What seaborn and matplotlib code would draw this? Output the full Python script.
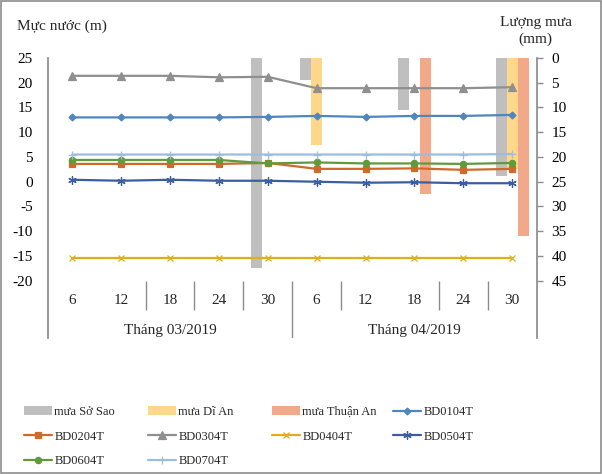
import matplotlib
matplotlib.use('Agg')

import matplotlib.pyplot as plt
from matplotlib.patches import Rectangle
import numpy as np
import pandas as pd
import seaborn as sns

sns.set_theme(style="white")
plt.rcParams['font.family'] = ['Liberation Serif', 'DejaVu Serif']
plt.rcParams['axes.unicode_minus'] = False

# data

months = ["Tháng 03/2019", "Tháng 04/2019"]
month_of_day = [0, 0, 0, 0, 0, 1, 1, 1, 1, 1]
days = ["6", "12", "18", "24", "30", "6", "12", "18", "24", "30"]

rain_names = ["mưa Sở Sao", "mưa Dĩ An", "mưa Thuận An"]
rain_sosao = [0, 0, 0, 0, 42.4, 4.4, 0, 10.6, 0, 23.9]
rain_dian = [0, 0, 0, 0, 0, 17.6, 0, 0, 0, 22.4]
rain_thuanan = [0, 0, 0, 0, 0, 0, 0, 27.4, 0, 35.9]

well_names = ["BD0104T", "BD0204T", "BD0304T", "BD0404T", "BD0504T", "BD0604T", "BD0704T"]
bd0104 = [13.0, 13.0, 13.0, 13.0, 13.1, 13.3, 13.1, 13.3, 13.3, 13.5]
bd0204 = [3.6, 3.6, 3.6, 3.6, 3.8, 2.6, 2.6, 2.7, 2.4, 2.6]
bd0304 = [21.4, 21.4, 21.4, 21.1, 21.2, 18.9, 18.9, 18.9, 18.9, 19.1]
bd0404 = [-15.5, -15.5, -15.5, -15.5, -15.5, -15.5, -15.5, -15.5, -15.5, -15.5]
bd0504 = [0.4, 0.2, 0.4, 0.2, 0.2, 0.0, -0.2, -0.1, -0.3, -0.3]
bd0604 = [4.4, 4.4, 4.4, 4.4, 3.7, 3.9, 3.7, 3.7, 3.6, 3.8]
bd0704 = [5.5, 5.5, 5.5, 5.5, 5.5, 5.5, 5.5, 5.5, 5.5, 5.6]

# styles

rain_colors = ["#BFBFBF", "#FFD78A", "#F2A98A"]
well_colors = ["#4F86C0", "#D06A2A", "#8F8F8F", "#E1AD1D", "#3B5E9E", "#5F9A3C", "#9DBDE0"]
well_markers = ["D", "s", "^", "x", (6, 2, 0), "o", "+"]
well_msize = [3.5, 4.5, 5.5, 5, 6, 4.5, 6]
grey = "#8C8C8C"

# tables

day_key = [f"{m}-{d}" for m, d in zip(month_of_day, days)]
rain = pd.DataFrame({"ngay": day_key, rain_names[0]: rain_sosao,
                     rain_names[1]: rain_dian, rain_names[2]: rain_thuanan})
rain_long = rain.melt(id_vars="ngay", var_name="tram", value_name="mm")

level = pd.DataFrame({"x": np.arange(len(days)), "BD0104T": bd0104, "BD0204T": bd0204,
                      "BD0304T": bd0304, "BD0404T": bd0404, "BD0504T": bd0504,
                      "BD0604T": bd0604, "BD0704T": bd0704})

# figure

fig = plt.figure(figsize=(6.02, 4.74), dpi=100)
ax = fig.add_axes([47.7 / 602, 1 - 338 / 474, 489 / 602, 280 / 474])
ax2 = ax.twinx()

sns.barplot(data=rain_long, x="ngay", y="mm", hue="tram", order=day_key,
            hue_order=rain_names, palette=rain_colors, width=0.675,
            saturation=1, errorbar=None, linewidth=0, ax=ax2)

for name, color, marker, ms in zip(well_names, well_colors, well_markers, well_msize):
    sns.lineplot(data=level, x="x", y=name, color=color, marker=marker,
                 markersize=ms, markeredgecolor=color, markerfacecolor=color,
                 markeredgewidth=0.9, lw=1.6, label=name, ax=ax)

ax.set_zorder(ax2.get_zorder() + 1)
ax.patch.set_visible(False)

# axes scales
ax.set_xlim(-0.5, len(days) - 0.5)
ax.set_ylim(-31.57, 25)
ax2.set_ylim(56.57, 0)
ax.set_yticks(range(-20, 26, 5))
ax2.set_yticks(range(0, 46, 5))
ax2.set_yticks(range(5, 41, 5), minor=True)
ax2.grid(axis="y", which="minor", color="#A6A6A6", lw=1)
ax2.set_axisbelow(True)
ax.set_xticks([])
ax2.set_xticks([])
for a in (ax, ax2):
    a.set_xlabel("")
    a.set_ylabel("")
    for s in a.spines.values():
        s.set_visible(False)
ax.spines["left"].set_visible(True)
ax.spines["left"].set_color(grey)
ax2.spines["right"].set_visible(True)
ax2.spines["right"].set_color(grey)

ax.tick_params(axis="y", length=0, pad=10.5, labelsize=11, labelcolor="black")
ax2.tick_params(axis="y", which="major", length=4, width=1, color=grey,
                direction="out", pad=6.5, labelsize=11, labelcolor="black")
ax2.tick_params(axis="y", which="minor", length=0)

# category labels
for i, d in enumerate(days):
    ax.text(i, -23.9, d, ha="center", va="center", fontsize=11)
for mi, mname in enumerate(months):
    pos = np.mean([i for i, m in enumerate(month_of_day) if m == mi])
    ax.text(pos, -30.0, mname, ha="center", va="center", fontsize=11)
ax.vlines([1.5, 2.5, 3.5, 5.5, 7.5, 8.5], -20, -25.9, color=grey, lw=1)
ax.vlines([4.5], -20, -31.57, color=grey, lw=1)

# axis titles
fig.text(17 / 602, 1 - 26 / 474, "Mực nước (m)", ha="left", va="center", fontsize=11)
fig.text(535.5 / 602, 1 - 31 / 474, "Lượng mưa\n(mm)", ha="center", va="center",
         fontsize=11, multialignment="center", linespacing=1.35)

# legend
handles = {}
for a in (ax, ax2):
    h, l = a.get_legend_handles_labels()
    handles.update(dict(zip(l, h)))
    if a.get_legend() is not None:
        a.get_legend().remove()

columns = [["mưa Sở Sao", "BD0204T", "BD0604T"],
           ["mưa Dĩ An", "BD0304T", "BD0704T"],
           ["mưa Thuận An", "BD0404T"],
           ["BD0104T", "BD0504T"]]
col_x = [24, 148, 272, 393]
for cx, col in zip(col_x, columns):
    fig.legend([handles[c] for c in col], col, loc="upper left",
               bbox_to_anchor=(cx / 602, 1 - 406 / 474), frameon=False,
               borderpad=0, borderaxespad=0, handlelength=2.24,
               handletextpad=0.2, labelspacing=1.0, fontsize=9)

fig.patches.append(Rectangle((0.002, 0.002), 0.996, 0.996, transform=fig.transFigure,
                             fill=False, ec=grey, lw=1.2))

plt.savefig("out.png", dpi=100)
